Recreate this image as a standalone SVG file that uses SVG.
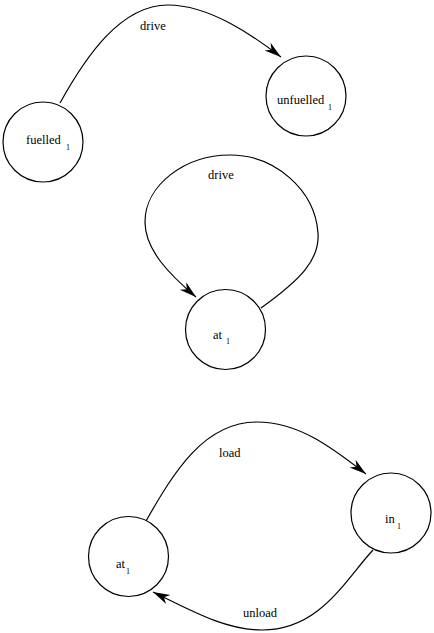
<svg xmlns="http://www.w3.org/2000/svg" width="434" height="633" viewBox="0 0 434 633">
<defs>
<style>
.node circle{fill:#fff;stroke:#000;stroke-width:1.2}
text{font-family:"Liberation Serif","Times New Roman",serif;font-size:12.5px;fill:#000}
text.sub{font-size:8px}
.edges path{fill:none;stroke:#000;stroke-width:1.2}
</style>
<marker id="arr" markerUnits="userSpaceOnUse" markerWidth="19" markerHeight="12" refX="17" refY="5" orient="auto" viewBox="0 0 19 10">
<path d="M0,0 L17,5 L0,10 L5,5 z" fill="#000"/>
</marker>
</defs>
<rect width="434" height="633" fill="#fff"/>
<g class="edges">
<path d="M60,103 C85,58 120,5 168,5 C210,5 255,37 281,57" marker-end="url(#arr)"/>
<path d="M261,308 C300,280 320,260 318,233 C315,190 275,155 230,155 C185,155 145,185 145,222 C145,250 170,275 196,297" marker-end="url(#arr)"/>
<path d="M146,521 C175,470 205,422 257,422 C300,422 335,450 366,474" marker-end="url(#arr)"/>
<path d="M373,550 C345,580 320,630 262,630 C225,630 190,610 153,592" marker-end="url(#arr)"/>
<text x="140" y="30">drive</text>
<text x="208" y="179">drive</text>
<text x="219" y="457">load</text>
<text x="243" y="617">unload</text>
</g>
<g id="fuelled" class="node">
<circle cx="43" cy="142" r="40"/>
<text x="26" y="144">fuelled</text><text class="sub" x="66" y="150">1</text>
</g>
<g id="unfuelled" class="node">
<circle cx="306" cy="96" r="40"/>
<text x="277" y="104">unfuelled</text><text class="sub" x="328" y="110">1</text>
</g>
<g id="at_loop" class="node">
<circle cx="225.5" cy="329.5" r="40"/>
<text x="213" y="339">at</text><text class="sub" x="226" y="344">1</text>
</g>
<g id="at" class="node">
<circle cx="128.5" cy="556.5" r="40"/>
<text x="116" y="568">at</text><text class="sub" x="126" y="574">1</text>
</g>
<g id="in" class="node">
<circle cx="391" cy="513" r="40"/>
<text x="385" y="523">in</text><text class="sub" x="397" y="529">1</text>
</g>
</svg>
